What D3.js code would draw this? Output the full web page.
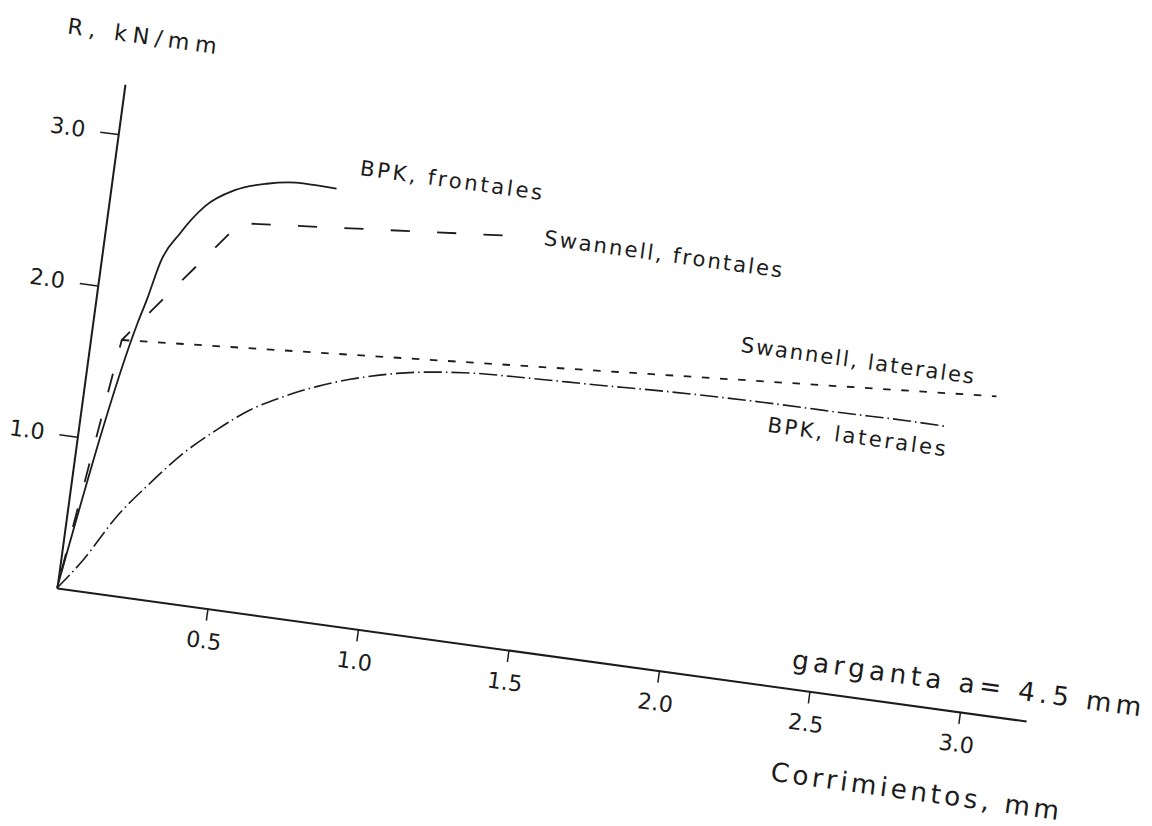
<!DOCTYPE html>
<html>
<head>
<meta charset="utf-8">
<script src="https://cdn.jsdelivr.net/npm/d3@7"></script>
<style>
  html, body { margin: 0; padding: 0; background: #ffffff; }
  svg { display: block; }
  text { font-family: "DejaVu Sans", "Liberation Sans", sans-serif; fill: #1c1c1c; }
</style>
</head>
<body>
<svg id="chart" width="1152" height="826"></svg>
<script>
// Displacement (mm) and resistance R (kN/mm) for each curve
const bpkFrontX = [0, 0.146, 0.166, 0.193, 0.245, 0.315, 0.405, 0.506, 0.625, 0.736];
const bpkFrontR = [0, 1.79, 1.95, 2.20, 2.41, 2.61, 2.74, 2.81, 2.845, 2.84];

const swFrontX = [0, 0.102, 0.436, 1.328];
const swFrontR = [0, 1.667, 2.53, 2.69];

const swLatX = [0.102, 2.98];
const swLatR = [1.667, 2.08];

const bpkLatX = [0, 0.073, 0.163, 0.257, 0.353, 0.451, 0.551, 0.654, 0.758, 0.864, 1.014, 1.231, 1.45, 1.671, 1.874, 2.255, 2.477, 2.698, 2.826];
const bpkLatR = [0, 0.205, 0.516, 0.762, 0.987, 1.168, 1.327, 1.443, 1.538, 1.615, 1.695, 1.759, 1.782, 1.798, 1.816, 1.834, 1.836, 1.842, 1.84];

// Axis ticks and texts
const xTicks = [0.5, 1.0, 1.5, 2.0, 2.5, 3.0];
const yTicks = [1.0, 2.0, 3.0];
const xTickLabels = ["0.5", "1.0", "1.5", "2.0", "2.5", "3.0"];
const yTickLabels = ["1.0", "2.0", "3.0"];
const yTitle = "R, kN/mm";
const xTitle = "Corrimientos, mm";
const xNote = "garganta a= 4.5 mm";
const seriesNames = ["BPK, frontales", "Swannell, frontales", "Swannell, laterales", "BPK, laterales"];

const svg = d3.select("#chart");

// The whole drawing sits on a slightly turned sheet
const g = svg.append("g")
  .attr("transform", "matrix(1, 0.1372, -0.135, 1, 57, 588)");

const xMax = 3.22, yMax = 3.33;
const x = d3.scaleLinear().domain([0, xMax]).range([0, xMax * 301]);
const y = d3.scaleLinear().domain([0, yMax]).range([0, -yMax * 151.3]);

const ink = "#1c1c1c";

// X axis
const xAxis = g.append("g")
  .call(d3.axisBottom(x)
    .tickValues(xTicks)
    .tickFormat((d, i) => xTickLabels[i])
    .tickSize(12)
    .tickSizeOuter(0)
    .tickPadding(12));
xAxis.select(".domain").attr("stroke", ink).attr("stroke-width", 2);
xAxis.selectAll(".tick line").attr("stroke", ink).attr("stroke-width", 1.5);
xAxis.selectAll(".tick text")
  .attr("font-size", 22)
  .attr("fill", ink)
  .style("font-family", "DejaVu Sans, sans-serif");

// Y axis
const yAxis = g.append("g")
  .call(d3.axisLeft(y)
    .tickValues(yTicks)
    .tickFormat((d, i) => yTickLabels[i])
    .tickSize(18)
    .tickSizeOuter(0)
    .tickPadding(15));
yAxis.select(".domain").attr("stroke", ink).attr("stroke-width", 2);
yAxis.selectAll(".tick line").attr("stroke", ink).attr("stroke-width", 1.5);
yAxis.selectAll(".tick text")
  .attr("font-size", 22)
  .attr("fill", ink)
  .style("font-family", "DejaVu Sans, sans-serif");

// Curves
const lineSmooth = d3.line().x(d => x(d[0])).y(d => y(d[1])).curve(d3.curveMonotoneX);
const lineStraight = d3.line().x(d => x(d[0])).y(d => y(d[1]));

const zip = (a, b) => a.map((v, i) => [v, b[i]]);

g.append("path")
  .datum(zip(bpkFrontX, bpkFrontR))
  .attr("d", lineSmooth)
  .attr("fill", "none").attr("stroke", ink).attr("stroke-width", 1.8);

// Long dashes, phased so the run finishes on a dash
const swFront = g.append("path")
  .datum(zip(swFrontX, swFrontR))
  .attr("d", lineStraight)
  .attr("fill", "none").attr("stroke", ink).attr("stroke-width", 1.8)
  .attr("stroke-dasharray", "19 27");
{
  const L = swFront.node().getTotalLength();
  const period = 46;
  const off = ((28 - L) % period + period) % period;
  swFront.attr("stroke-dashoffset", off);
}

g.append("path")
  .datum(zip(swLatX, swLatR))
  .attr("d", lineStraight)
  .attr("fill", "none").attr("stroke", ink).attr("stroke-width", 1.8)
  .attr("stroke-dasharray", "7.5 10.5");

g.append("path")
  .datum(zip(bpkLatX, bpkLatR))
  .attr("d", lineSmooth)
  .attr("fill", "none").attr("stroke", ink).attr("stroke-width", 1.6)
  .attr("stroke-dasharray", "18 4 1.5 4");

// Curve labels
const labelSpec = [
  { text: seriesNames[0], at: [0.804, 2.949], len: 182 },
  { text: seriesNames[1], at: [1.435, 2.659], len: 238 },
  { text: seriesNames[2], at: [2.124, 2.141], len: 233 },
  { text: seriesNames[3], at: [2.246, 1.646], len: 178 }
];
g.selectAll("text.curve-label")
  .data(labelSpec)
  .join("text")
  .attr("class", "curve-label")
  .attr("x", d => x(d.at[0]))
  .attr("y", d => y(d.at[1]))
  .attr("font-size", 21)
  .attr("textLength", d => d.len)
  .attr("lengthAdjust", "spacing")
  .text(d => d.text);

// Axis titles
g.append("text")
  .attr("x", -64).attr("y", y(yMax) - 42)
  .attr("font-size", 22)
  .attr("textLength", 149)
  .attr("lengthAdjust", "spacing")
  .text(yTitle);

g.append("text")
  .attr("x", x(2.43)).attr("y", -20)
  .attr("font-size", 26)
  .attr("textLength", 349)
  .attr("lengthAdjust", "spacing")
  .text(xNote);

g.append("text")
  .attr("x", x(2.41)).attr("y", 93)
  .attr("font-size", 26)
  .attr("textLength", 288)
  .attr("lengthAdjust", "spacing")
  .text(xTitle);
</script>
</body>
</html>
